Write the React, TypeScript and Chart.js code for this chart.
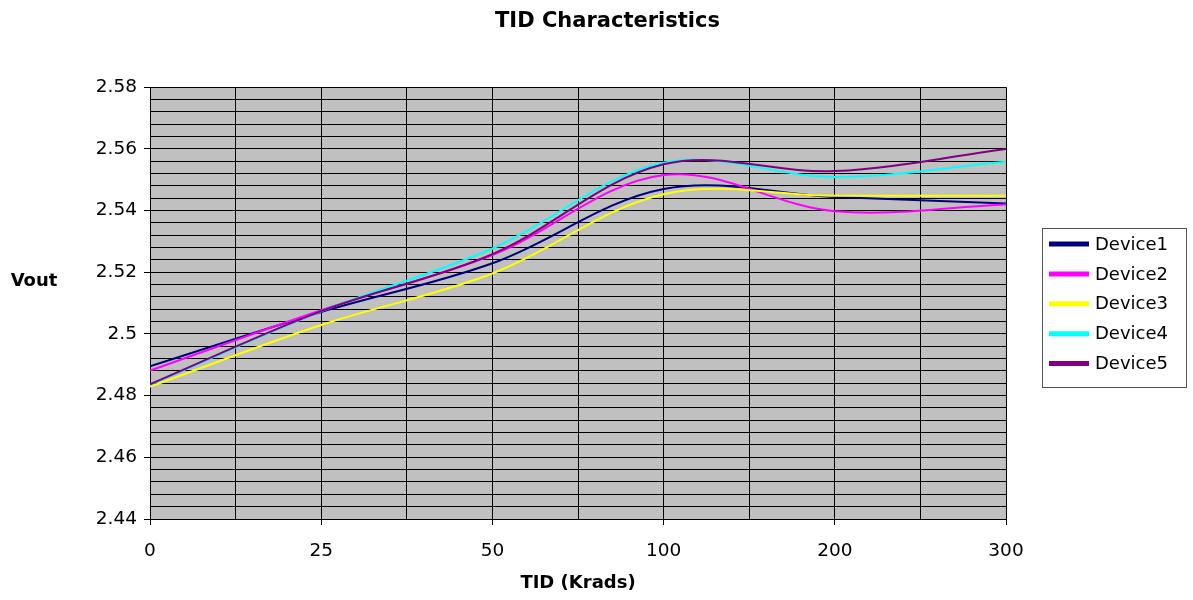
import React, { useEffect, useRef } from 'react';
import { Chart, registerables, layouts } from 'chart.js';

Chart.register(...registerables);

// ---- data ----
const CATEGORIES = ['0', '25', '50', '100', '200', '300'];
const SERIES_NAMES = ['Device1', 'Device2', 'Device3', 'Device4', 'Device5'];
const DEVICE1 = [2.4895, 2.5071, 2.5229, 2.547, 2.5444, 2.5423];
const DEVICE2 = [2.4881, 2.5077, 2.5256, 2.5515, 2.5398, 2.542];
const DEVICE3 = [2.4829, 2.5029, 2.5196, 2.5453, 2.5448, 2.5448];
const DEVICE4 = [2.4835, 2.5073, 2.5277, 2.5555, 2.5509, 2.5558];
const DEVICE5 = [2.4837, 2.5074, 2.5259, 2.555, 2.5528, 2.56];
const SERIES_VALUES = [DEVICE1, DEVICE2, DEVICE3, DEVICE4, DEVICE5];
const SERIES_COLORS = ['#000080', '#FF00FF', '#FFFF00', '#00FFFF', '#800080'];
const Y_MIN = 2.44;
const Y_MAX = 2.58;
const Y_MAJOR = 0.02;
const Y_MINOR = 0.004;

const TITLE = 'TID Characteristics';
const X_TITLE = 'TID (Krads)';
const Y_TITLE = 'Vout';

const FONT = '"DejaVu Sans", "Liberation Sans", Arial, sans-serif';

const isMajor = (v: number) => Math.abs(v / Y_MAJOR - Math.round(v / Y_MAJOR)) < 1e-4;

const plotBgPlugin = {
  id: 'plotBg',
  beforeDraw(chart: any) {
    const { ctx, chartArea } = chart;
    ctx.save();
    ctx.fillStyle = '#ffffff';
    ctx.fillRect(0, 0, chart.width, chart.height);
    ctx.fillStyle = '#C0C0C0';
    ctx.fillRect(chartArea.left, chartArea.top, chartArea.right - chartArea.left, chartArea.bottom - chartArea.top);
    ctx.restore();
  },
  afterDraw(chart: any) {
    const { ctx, chartArea } = chart;
    ctx.save();
    ctx.font = `bold 18px ${FONT}`;
    ctx.fillStyle = '#000';
    ctx.textAlign = 'center';
    ctx.textBaseline = 'middle';
    const cy = (chartArea.top + chartArea.bottom) / 2;
    ctx.fillText(Y_TITLE, chartArea.left - 116, cy - 22);
    ctx.restore();
  },
};

const boxLegendPlugin = {
  id: 'boxLegend',
  beforeInit(chart: any) {
    const box: any = {
      position: 'right',
      weight: 1000,
      fullSize: false,
      options: { display: true },
      left: 0,
      top: 0,
      right: 0,
      bottom: 0,
      width: 0,
      height: 0,
      isHorizontal() {
        return false;
      },
      update(_maxWidth: number, maxHeight: number) {
        this.width = 187;
        this.height = maxHeight;
      },
      draw() {
        const ctx = chart.ctx;
        const area = chart.chartArea;
        const boxLeft = Math.round(this.left + 36);
        const boxW = 144;
        const boxH = 159;
        const boxTop = Math.round((area.top + area.bottom) / 2 - 75);
        ctx.save();
        ctx.strokeStyle = '#555555';
        ctx.lineWidth = 1;
        ctx.strokeRect(boxLeft + 0.5, boxTop + 0.5, boxW, boxH);
        ctx.font = `18px ${FONT}`;
        ctx.textBaseline = 'middle';
        ctx.textAlign = 'left';
        chart.data.datasets.forEach((ds: any, i: number) => {
          const y = boxTop + 16 + i * 29.9;
          ctx.strokeStyle = ds.borderColor;
          ctx.lineWidth = 5;
          ctx.beginPath();
          ctx.moveTo(boxLeft + 7, y);
          ctx.lineTo(boxLeft + 47, y);
          ctx.stroke();
          ctx.fillStyle = '#000';
          ctx.fillText(ds.label, boxLeft + 53, y + 1);
        });
        ctx.restore();
      },
    };
    layouts.addBox(chart, box);
  },
};

export default function App() {
  const canvasRef = useRef<HTMLCanvasElement | null>(null);

  useEffect(() => {
    if (!canvasRef.current) return;
    const datasets = SERIES_VALUES.map((vals, i) => ({
      label: SERIES_NAMES[i],
      data: vals.map((v, j) => ({ x: j, y: v })),
      borderColor: SERIES_COLORS[i],
      backgroundColor: SERIES_COLORS[i],
      borderWidth: 2,
      pointRadius: 0,
      pointHoverRadius: 0,
      tension: 0.35,
      fill: false,
      order: SERIES_VALUES.length - i,
    }));

    const chart = new Chart(canvasRef.current, {
      type: 'line',
      data: { datasets },
      plugins: [plotBgPlugin, boxLegendPlugin],
      options: {
        animation: false,
        responsive: false,
        events: [],
        layout: { padding: { left: 22, right: 0, top: 0, bottom: 0 } },
        plugins: {
          legend: { display: false },
          tooltip: { enabled: false },
          title: {
            display: true,
            text: TITLE,
            color: '#000',
            font: { family: FONT, size: 21, weight: 'bold' },
            padding: { top: 9, bottom: 53 },
          },
        },
        scales: {
          x: {
            type: 'linear',
            min: 0,
            max: CATEGORIES.length - 1,
            offset: false,
            grid: {
              color: '#000',
              lineWidth: 1,
              tickLength: 6,
              tickColor: (ctx: any) => (Number.isInteger(ctx.tick?.value) ? '#000' : 'rgba(0,0,0,0)'),
            },
            border: { color: '#000', width: 1 },
            ticks: {
              stepSize: 0.5,
              autoSkip: false,
              maxRotation: 0,
              minRotation: 0,
              padding: 15,
              color: '#000',
              font: { family: FONT, size: 18.5 },
              callback: (v: any) => (Number.isInteger(v) ? CATEGORIES[v] : ''),
            },
            title: {
              display: true,
              text: X_TITLE,
              color: '#000',
              font: { family: FONT, size: 18, weight: 'bold' },
              padding: { top: 4, bottom: 6 },
            },
            afterFit: (s: any) => {
              s.height = 81;
            },
          },
          y: {
            type: 'linear',
            min: Y_MIN,
            max: Y_MAX,
            grid: {
              color: '#000',
              lineWidth: 1,
              tickLength: 6,
              tickColor: (ctx: any) => (ctx.tick && isMajor(ctx.tick.value) ? '#000' : 'rgba(0,0,0,0)'),
            },
            border: { color: '#000', width: 1 },
            ticks: {
              stepSize: Y_MINOR,
              autoSkip: false,
              maxTicksLimit: 200,
              padding: 7,
              color: '#000',
              font: { family: FONT, size: 18.5 },
              callback: (v: any) => (isMajor(v) ? String(Number(Number(v).toFixed(2))) : ''),
            },
            afterFit: (s: any) => {
              s.width = 128;
            },
          },
        },
      } as any,
    });
    return () => chart.destroy();
  }, []);

  return (
    <div style={{ position: 'absolute', left: 0, top: 0, width: 1193, height: 600 }}>
      <canvas ref={canvasRef} width={1193} height={600} style={{ display: 'block' }} />
    </div>
  );
}
